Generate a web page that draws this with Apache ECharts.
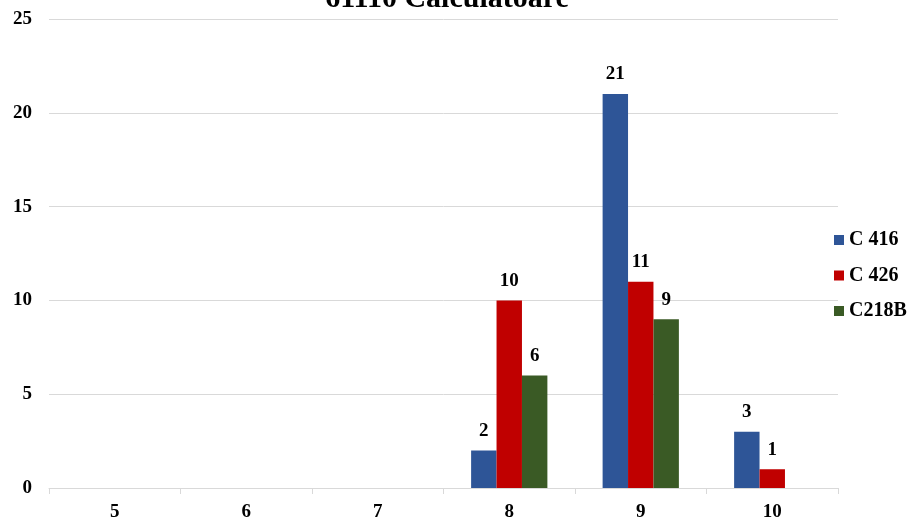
<!DOCTYPE html>
<html><head><meta charset="utf-8">
<script src="https://cdn.jsdelivr.net/npm/echarts@6/dist/echarts.min.js"></script>
<style>html,body{margin:0;padding:0;background:#fff}#c{width:911px;height:522px}</style>
</head><body><div id="c"></div>
<script>
const titleText = "61110 Calculatoare";
const categories = ["5","6","7","8","9","10"];
const seriesNames = ["C 416","C 426","C218B"];
const c416 = [null,null,null,2,21,3];
const c426 = [null,null,null,10,11,1];
const c218b = [null,null,null,6,9,null];
const yTicks = {min:0,max:25,interval:5};
const colors = ["#2E5597","#C00000","#3A5A25"];
const font = "'Liberation Serif','Times New Roman',serif";
const lbl = {show:true,position:'top',distance:10,fontFamily:font,fontWeight:'bold',fontSize:19,color:'#000'};
const chart = echarts.init(document.getElementById('c'));
chart.setOption({
  animation:false,
  title:{text:titleText,left:442,textAlign:'center',top:-21,textStyle:{fontFamily:font,fontWeight:'bold',fontSize:30,color:'#000'}},
  legend:{orient:'vertical',left:834,top:230,padding:0,itemWidth:10,itemHeight:10,itemGap:15.5,icon:'rect',
    textStyle:{fontFamily:font,fontWeight:'bold',fontSize:20,color:'#000',padding:[0,0,0,0]},data:seriesNames},
  grid:{left:49,right:73,top:19,bottom:33},
  xAxis:{type:'category',data:categories,
    axisLine:{lineStyle:{color:'#d9d9d9'}},axisTick:{show:true,length:6,lineStyle:{color:'#d9d9d9'}},
    axisLabel:{fontFamily:font,fontWeight:'bold',fontSize:19,color:'#000',margin:15}},
  yAxis:{type:'value',min:yTicks.min,max:yTicks.max,interval:yTicks.interval,
    axisLine:{show:false},axisTick:{show:false},
    splitLine:{lineStyle:{color:'#d9d9d9'}},
    axisLabel:{fontFamily:font,fontWeight:'bold',fontSize:19,color:'#000',margin:17}},
  series:[
    {name:seriesNames[0],type:'bar',data:c416,itemStyle:{color:colors[0]},label:lbl,barGap:'0%',barCategoryGap:'42%'},
    {name:seriesNames[1],type:'bar',data:c426,itemStyle:{color:colors[1]},label:lbl,barGap:'0%',barCategoryGap:'42%'},
    {name:seriesNames[2],type:'bar',data:c218b,itemStyle:{color:colors[2]},label:lbl,barGap:'0%',barCategoryGap:'42%'}
  ]
});
</script></body></html>
